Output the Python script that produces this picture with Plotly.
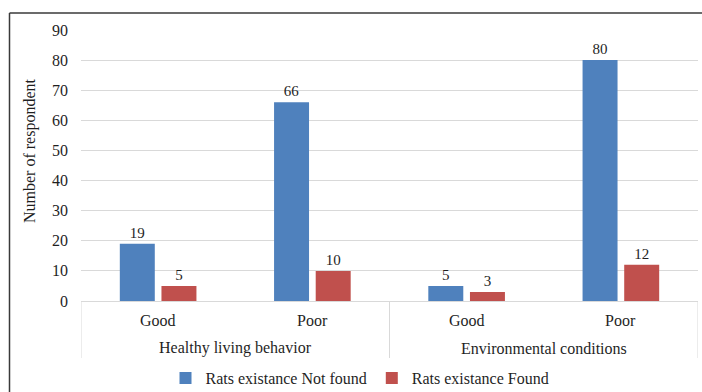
import plotly.graph_objects as go

groups = ["Healthy living behavior", "Healthy living behavior",
          "Environmental conditions", "Environmental conditions"]
levels = ["Good", "Poor", "Good", "Poor"]
not_found = [19, 66, 5, 80]
found = [5, 10, 3, 12]
series_names = ["Rats existance Not found", "Rats existance Found"]
y_ticks = [0, 10, 20, 30, 40, 50, 60, 70, 80, 90]

FONT = "Liberation Serif, Times New Roman, serif"
TXT = "#1F1F1F"
LINE = "#D9D9D9"

fig = go.Figure()
fig.add_trace(go.Bar(
    x=[groups, levels], y=not_found, name=series_names[0],
    marker=dict(color="#4F81BD", line=dict(width=0)),
    text=not_found, textposition="outside", cliponaxis=False,
    textfont=dict(family=FONT, size=15, color=TXT),
))
fig.add_trace(go.Bar(
    x=[groups, levels], y=found, name=series_names[1],
    marker=dict(color="#C0504D", line=dict(width=0)),
    text=found, textposition="outside", cliponaxis=False,
    textfont=dict(family=FONT, size=15, color=TXT),
))

ML, MR, MT, MB = 81, 4, 30, 91
W, H = 702, 392
pw = W - ML - MR
ph = H - MT - MB

def px_x(p):
    return (p - ML) / pw

def px_y(p):
    return (H - MB - p) / ph

annotations = [dict(
    text="Number of respondent", textangle=-90,
    xref="paper", yref="paper", x=px_x(30), y=px_y(150),
    xanchor="center", yanchor="middle", showarrow=False,
    font=dict(family=FONT, size=16, color=TXT),
)]
# category labels (inner level) at category index positions
for i, lab in enumerate(levels):
    annotations.append(dict(
        text=lab, xref="x", yref="paper", x=i, y=px_y(320),
        xanchor="center", yanchor="middle", showarrow=False,
        font=dict(family=FONT, size=16, color=TXT),
    ))
# group labels (outer level)
seen = []
for g in groups:
    if g not in seen:
        seen.append(g)
for g in seen:
    idx = [i for i, gg in enumerate(groups) if gg == g]
    annotations.append(dict(
        text=g, xref="x", yref="paper", x=sum(idx) / len(idx), y=px_y(348),
        xanchor="center", yanchor="middle", showarrow=False,
        font=dict(family=FONT, size=16, color=TXT),
    ))

shapes = [
    dict(type="line", xref="paper", yref="paper",
         x0=px_x(9.5), x1=px_x(9.5), y0=px_y(13), y1=px_y(400),
         line=dict(color="#3A3A3A", width=1.5)),
    dict(type="line", xref="paper", yref="paper",
         x0=px_x(9.5), x1=px_x(710), y0=px_y(13), y1=px_y(13),
         line=dict(color="#3A3A3A", width=1.5)),
]
# dividers between groups and at the ends of the category axis
bounds = [-0.5]
for i in range(1, len(groups)):
    if groups[i] != groups[i - 1]:
        bounds.append(i - 0.5)
bounds.append(len(groups) - 0.5)
for b in bounds:
    shapes.append(dict(type="line", xref="x", yref="paper",
                       x0=b, x1=b, y0=0, y1=px_y(358),
                       line=dict(color=LINE, width=1)))

fig.update_layout(
    width=W, height=H,
    margin=dict(l=ML, r=MR, t=MT, b=MB, pad=0, autoexpand=False),
    paper_bgcolor="white", plot_bgcolor="white",
    font=dict(family=FONT, size=16, color=TXT),
    barmode="group", bargap=0.46, bargroupgap=0.16,
    showlegend=True,
    legend=dict(orientation="h", x=px_x(360), xanchor="center",
                y=px_y(378), yanchor="middle",
                font=dict(family=FONT, size=16, color=TXT),
                itemwidth=30, tracegroupgap=0),
    xaxis=dict(
        type="multicategory", range=[-0.5, 3.5],
        showline=True, linecolor=LINE, linewidth=1,
        showgrid=False, ticks="", showticklabels=False,
        showdividers=False, automargin=False,
    ),
    yaxis=dict(
        range=[0, 90], tickvals=y_ticks,
        showgrid=True, gridcolor=LINE, gridwidth=1,
        showline=False, zeroline=False, ticks="",
        ticklabelstandoff=12, automargin=False,
        tickfont=dict(family=FONT, size=16, color=TXT),
    ),
    annotations=annotations,
    shapes=shapes,
)

fig.write_html(
    "out.html",
    config={"displayModeBar": False},
    post_script="document.body.style.margin='0';document.body.style.overflow='hidden';",
)
